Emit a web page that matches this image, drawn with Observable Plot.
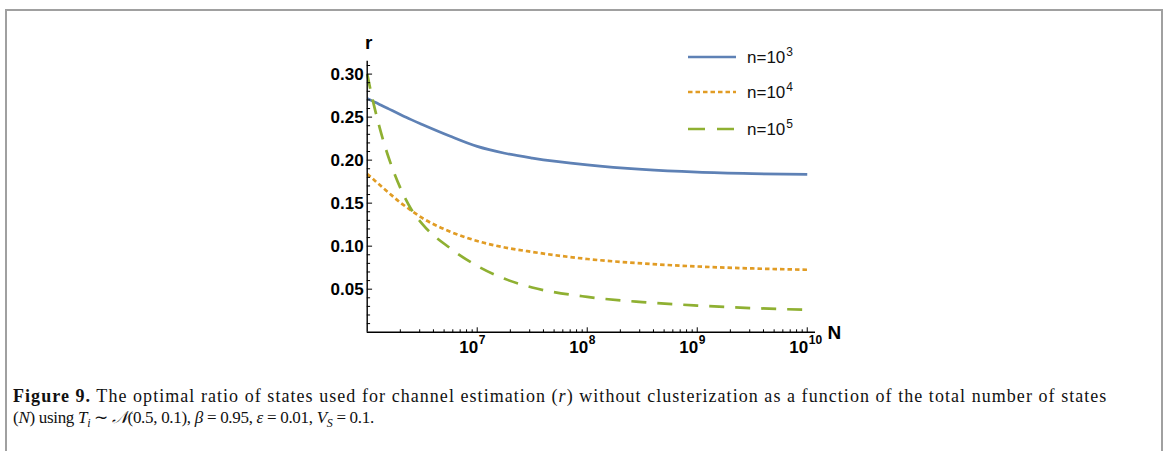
<!DOCTYPE html>
<html><head><meta charset="utf-8">
<script src="https://cdn.jsdelivr.net/npm/d3@7"></script>
<script src="https://cdn.jsdelivr.net/npm/@observablehq/plot@0.6"></script>
<style>
html,body{margin:0;padding:0;background:#fff;width:1166px;height:451px;overflow:hidden;}
#frame{position:absolute;left:5px;top:9px;width:1158px;height:470px;border:2px solid #a0a0a0;box-sizing:border-box;pointer-events:none;}
#chart{position:absolute;left:0;top:0;}
#legend{position:absolute;left:0;top:0;width:1166px;height:0;font-family:"Liberation Sans",Arial,sans-serif;font-size:17px;color:#111;}
#legend .txt{position:absolute;white-space:nowrap;line-height:17px;}
#legend .txt sup{font-size:12px;position:relative;top:-7px;vertical-align:baseline;margin-left:1px;}
#legend svg{position:absolute;overflow:visible;}
.caption{position:absolute;left:13px;top:386px;font-family:"Liberation Serif","Times New Roman",serif;font-size:18px;line-height:21px;color:#111;white-space:nowrap;}
.caption .l1{letter-spacing:1.05px;}
.caption .l2{font-size:17px;letter-spacing:-0.3px;}
.caption sub{font-size:12px;vertical-align:baseline;position:relative;top:4px;}
</style></head>
<body>
<div id="chart"></div>
<div id="legend"></div>
<div class="caption"><span class="l1"><b>Figure 9.</b> The optimal ratio of states used for channel estimation (<i>r</i>) without clusterization as a function of the total number of states</span><br><span class="l2">(<i>N</i>) using <i>T<sub>i</sub></i> ∼ <i>𝒩</i>(0.5, 0.1), <i>β</i> = 0.95, <i>ε</i> = 0.01, <i>V<sub>S</sub></i> = 0.1.</span></div>
<div id="frame"></div>
<script>
// ---- data ----
const logN   = [6, 6.05, 6.1, 6.15, 6.2, 6.3, 6.4, 6.5, 6.75, 7, 7.25, 7.5, 8, 8.5, 9, 9.5, 10];
const r_n1e3 = [0.2717, 0.2686, 0.2656, 0.2624, 0.2593, 0.2531, 0.2471, 0.2415, 0.2281, 0.2160, 0.2080, 0.2024, 0.1945, 0.1892, 0.1860, 0.1843, 0.1834];
const r_n1e4 = [0.1840, 0.1784, 0.1727, 0.1671, 0.1616, 0.1508, 0.1415, 0.1328, 0.1171, 0.1060, 0.0985, 0.0933, 0.0851, 0.0799, 0.0764, 0.0741, 0.0726];
const r_n1e5 = [0.300, 0.270, 0.244, 0.221, 0.201, 0.168, 0.143, 0.126, 0.098, 0.077, 0.062, 0.052, 0.041, 0.035, 0.031, 0.028, 0.026];
const seriesExp = [3, 4, 5];
const yTickValues = [0.05, 0.10, 0.15, 0.20, 0.25, 0.30];
const xTickExponents = [7, 8, 9, 10];

const colors = ["#5E81B5", "#E19C24", "#8FB032"];
const dashes = [null, "4.5,3", "15,11"];
const seriesValues = [r_n1e3, r_n1e4, r_n1e5];

const rows = [];
seriesValues.forEach((vals, s) => {
  logN.forEach((e, i) => rows.push({N: Math.pow(10, e), r: vals[i], s}));
});

const W = 1166, H = 372;
const x0 = 366.7, x1 = 815, y0 = 331.7, y1 = 60.7;

const tickShape = {draw(ctx, l) { ctx.moveTo(0, 0); ctx.lineTo(0, -l); }};
const yMinor = d3.range(1, 32).map(k => k / 100).filter(v => Math.round(v * 100) % 5 !== 0);
const xMinor = d3.range(6, 10).flatMap(k => d3.range(2, 10).map(m => m * Math.pow(10, k)));
const xMajor = xTickExponents.map(e => Math.pow(10, e));

const font = '"Liberation Sans", Arial, sans-serif';

const lineMarks = seriesValues.map((_, s) => Plot.line(rows.filter(d => d.s === s), {
  x: "N", y: "r", stroke: colors[s], strokeWidth: 2.7, curve: "monotone-x",
  strokeDasharray: dashes[s], strokeLinecap: "butt"
}));

const chart = Plot.plot({
  width: W, height: H,
  marginLeft: x0, marginRight: W - x1, marginTop: y1, marginBottom: H - y0,
  x: {type: "log", domain: [1e6, Math.pow(10, 10.075)], axis: null},
  y: {domain: [0, 0.315], axis: null},
  style: {background: "transparent", fontFamily: font, color: "#000", overflow: "visible"},
  marks: [
    ...lineMarks,
    Plot.ruleY([0], {stroke: "#000", strokeWidth: 1.4}),
    Plot.ruleX([1e6], {stroke: "#000", strokeWidth: 1.4}),
    // y ticks (inward)
    Plot.vector(yTickValues, {y: d => d, frameAnchor: "left", length: 4.5, rotate: 90, anchor: "start", shape: tickShape, stroke: "#000", strokeWidth: 1}),
    Plot.vector(yMinor, {y: d => d, frameAnchor: "left", length: 2.5, rotate: 90, anchor: "start", shape: tickShape, stroke: "#000", strokeWidth: 1}),
    // x ticks (inward)
    Plot.vector(xMajor, {x: d => d, frameAnchor: "bottom", length: 4.5, rotate: 0, anchor: "start", shape: tickShape, stroke: "#000", strokeWidth: 1}),
    Plot.vector(xMinor, {x: d => d, frameAnchor: "bottom", length: 2.5, rotate: 0, anchor: "start", shape: tickShape, stroke: "#000", strokeWidth: 1}),
    // y tick labels
    Plot.text(yTickValues, {y: d => d, frameAnchor: "left", text: d => d.toFixed(2), textAnchor: "end", dx: -3.5, fontSize: 17, fontWeight: "bold", fill: "#000", style: "letter-spacing:0.6px"}),
    // x tick labels: base and exponent
    Plot.text(xMajor, {x: d => d, frameAnchor: "bottom", text: () => "10", textAnchor: "end", lineAnchor: "middle", dx: 1, dy: 15, fontSize: 17, fontWeight: "bold", fill: "#000"}),
    Plot.text(xTickExponents, {x: d => Math.pow(10, d), frameAnchor: "bottom", text: d => String(d), textAnchor: "start", lineAnchor: "middle", dx: 1.5, dy: 8, fontSize: 12, fontWeight: "bold", fill: "#000"}),
    // axis labels
    Plot.text(["r"], {frameAnchor: "top-left", text: d => d, textAnchor: "middle", lineAnchor: "middle", dx: 1.5, dy: -18, fontSize: 19, fontWeight: "bold", fill: "#000"}),
    Plot.text(["N"], {frameAnchor: "bottom-right", text: d => d, textAnchor: "start", lineAnchor: "middle", dx: 12, dy: 0.5, fontSize: 19, fontWeight: "bold", fill: "#000"})
  ]
});
document.getElementById("chart").appendChild(chart);

// legend
const legend = document.getElementById("legend");
const legendY = [56.7, 92.3, 128.8];
seriesExp.forEach((e, s) => {
  const y = legendY[s];
  const svg = document.createElementNS("http://www.w3.org/2000/svg", "svg");
  svg.setAttribute("width", 50); svg.setAttribute("height", 6);
  svg.style.left = "688px"; svg.style.top = (y - 3) + "px";
  const ln = document.createElementNS("http://www.w3.org/2000/svg", "line");
  ln.setAttribute("x1", 0); ln.setAttribute("x2", 48); ln.setAttribute("y1", 3); ln.setAttribute("y2", 3);
  ln.setAttribute("stroke", colors[s]); ln.setAttribute("stroke-width", 2.7);
  if (dashes[s]) ln.setAttribute("stroke-dasharray", s === 2 ? "17,12" : dashes[s]);
  svg.appendChild(ln);
  legend.appendChild(svg);
  const t = document.createElement("div");
  t.className = "txt";
  t.style.left = "747px"; t.style.top = (y - 8) + "px";
  t.innerHTML = "n=10<sup>" + e + "</sup>";
  legend.appendChild(t);
});
</script>
</body></html>
